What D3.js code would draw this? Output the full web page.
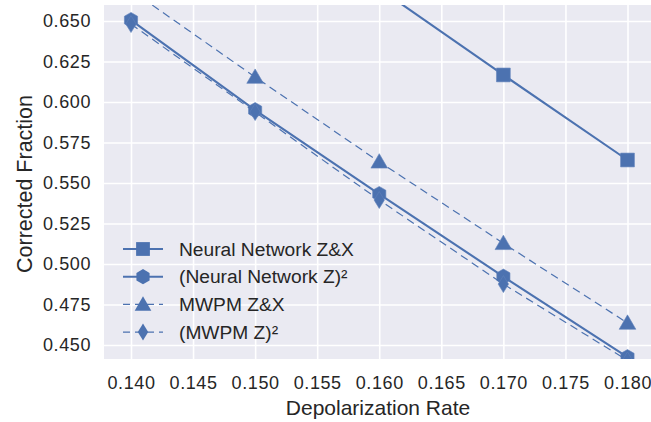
<!DOCTYPE html>
<html>
<head>
<meta charset="utf-8">
<script src="https://cdn.jsdelivr.net/npm/d3@7"></script>
<style>
    body { margin: 0; background: #fff; }
    svg { display: block; font-family: "Liberation Sans", Arial, sans-serif; }
</style>
</head>
<body>
<script>
// Data
const rates = [0.140, 0.150, 0.160, 0.170, 0.180];
const nnZX = [0.775, 0.722, 0.670, 0.6167, 0.5642];
const nnZ2 = [0.6506, 0.5950, 0.5432, 0.4922, 0.4425];
const mwpmZX = [0.669, 0.6154, 0.5631, 0.5128, 0.4636];
const mwpmZ2 = [0.6481, 0.5938, 0.5395, 0.4876, 0.4405];
const seriesNames = ["Neural Network Z&X", "(Neural Network Z)²", "MWPM Z&X", "(MWPM Z)²"];
const xTicks = [0.140, 0.145, 0.150, 0.155, 0.160, 0.165, 0.170, 0.175, 0.180];
const yTicks = [0.450, 0.475, 0.500, 0.525, 0.550, 0.575, 0.600, 0.625, 0.650];

const width = 651;
const height = 422;
const plotLeft = 104;
const plotRight = 651;
const plotTop = 5;
const plotBottom = 359;
const blue = "#4C72B0";

// SCALE
const x = d3.scaleLinear().domain([0.140, 0.180]).range([131, 627.5]);
const y = d3.scaleLinear().domain([0.450, 0.650]).range([345, 21]);

const svg = d3.select("body").append("svg")
    .attr("width", width)
    .attr("height", height);

svg.append("defs").append("clipPath")
    .attr("id", "plot-clip")
    .append("rect")
    .attr("x", plotLeft)
    .attr("y", plotTop)
    .attr("width", plotRight - plotLeft)
    .attr("height", plotBottom - plotTop);

// background
svg.append("rect")
    .attr("x", plotLeft)
    .attr("y", plotTop)
    .attr("width", plotRight - plotLeft)
    .attr("height", plotBottom - plotTop)
    .attr("fill", "#EAEAF2");

// AXIS (grid + labels)
const xAxis = svg.append("g")
    .attr("transform", `translate(0,${plotBottom})`)
    .call(d3.axisBottom(x).tickValues(xTicks).tickFormat(d3.format(".3f"))
        .tickSize(-(plotBottom - plotTop)).tickPadding(17));
const yAxis = svg.append("g")
    .attr("transform", `translate(${plotLeft},0)`)
    .call(d3.axisLeft(y).tickValues(yTicks).tickFormat(d3.format(".3f"))
        .tickSize(-(plotRight - plotLeft)).tickPadding(13));

[xAxis, yAxis].forEach(g => {
    g.select(".domain").remove();
    g.selectAll(".tick line").attr("stroke", "#fff").attr("stroke-width", 1.6);
    g.selectAll(".tick text")
        .attr("fill", "#262626")
        .style("font-size", "18px")
        .style("letter-spacing", "0.6px");
});

// axis titles
svg.append("text")
    .attr("x", 378)
    .attr("y", 415)
    .attr("text-anchor", "middle")
    .attr("fill", "#262626")
    .style("font-size", "21px")
    .text("Depolarization Rate");

svg.append("text")
    .attr("transform", `translate(32,184) rotate(-90)`)
    .attr("text-anchor", "middle")
    .attr("fill", "#262626")
    .style("font-size", "21.5px")
    .text("Corrected Fraction");

// marker shapes
const sym = {
    square: d3.symbol().type(d3.symbolSquare).size(190)(),
    triangle: d3.symbol().type(d3.symbolTriangle).size(120)()
};
function hexPath(r) {
    const pts = d3.range(6).map(i => {
        const a = Math.PI / 6 + i * Math.PI / 3;
        return [r * Math.cos(a), r * Math.sin(a)];
    });
    return "M" + pts.map(p => p.join(",")).join("L") + "Z";
}
sym.hexagon = hexPath(7.6);
sym.diamond = "M0,-8.5L5.2,0L0,8.5L-5.2,0Z";

const series = [
    { name: seriesNames[0], values: nnZX, marker: "square", dash: null, lw: 2.1 },
    { name: seriesNames[1], values: nnZ2, marker: "hexagon", dash: null, lw: 2.1 },
    { name: seriesNames[2], values: mwpmZX, marker: "triangle", dash: "8,5", lw: 1.2 },
    { name: seriesNames[3], values: mwpmZ2, marker: "diamond", dash: "8,5", lw: 1.2 }
];

const line = d3.line()
    .x((d, i) => x(rates[i]))
    .y(d => y(d));

const plot = svg.append("g").attr("clip-path", "url(#plot-clip)");

series.forEach(s => {
    plot.append("path")
        .datum(s.values)
        .attr("d", line)
        .attr("fill", "none")
        .attr("stroke", blue)
        .attr("stroke-width", s.lw)
        .attr("stroke-dasharray", s.dash);
    plot.selectAll(null)
        .data(s.values)
        .enter()
        .append("path")
        .attr("d", sym[s.marker])
        .attr("transform", (d, i) => `translate(${x(rates[i])},${y(d) + (s.marker === "triangle" ? 1.5 : 0)})`)
        .attr("fill", blue)
        .attr("stroke", "#5f82bb")
        .attr("stroke-width", 0.6);
});

// LEGEND
const legend = svg.append("g").attr("transform", "translate(123,249)");
series.forEach((s, i) => {
    const row = legend.append("g").attr("transform", `translate(0,${i * 27.7})`);
    row.append("line")
        .attr("x1", 0).attr("x2", 40)
        .attr("stroke", blue)
        .attr("stroke-width", s.lw)
        .attr("stroke-dasharray", s.dash ? "7,5" : null);
    row.append("path")
        .attr("d", sym[s.marker])
        .attr("transform", `translate(20,${s.marker === "triangle" ? 1.5 : 0})`)
        .attr("fill", blue);
    row.append("text")
        .attr("x", 56)
        .attr("y", 6.5)
        .attr("fill", "#262626")
        .style("font-size", "19.2px")
        .text(s.name);
});
</script>
</body>
</html>
